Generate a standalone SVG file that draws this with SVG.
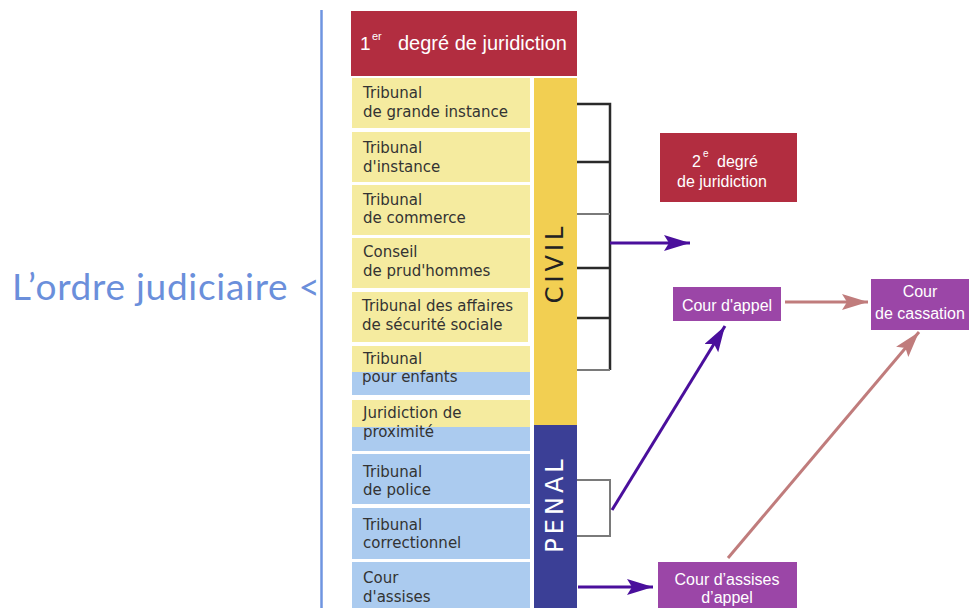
<svg xmlns="http://www.w3.org/2000/svg" width="969" height="608" viewBox="0 0 969 608">
<style>
.rowy{fill:#f5eb9f}
.rowb{fill:#abcbef}
.red{fill:#b22d40}
.pur{fill:#9b46a7}
.rt{font-family:"DejaVu Sans",Verdana,sans-serif;font-size:15px;fill:#333}
.wt{font-family:"Liberation Sans",Arial,sans-serif;fill:#fff}
.bar{font-family:"DejaVu Sans",Verdana,sans-serif;font-size:24px;letter-spacing:4px}
.blk{stroke:#2a2a2a;stroke-width:2.5;fill:none}
.gry{stroke:#7a7a7a;stroke-width:2;fill:none}
.pa{stroke:#4a0f9c;stroke-width:3;fill:none}
.ra{stroke:#c07c7c;stroke-width:3;fill:none}
</style>
<defs>
<marker id="hp" markerUnits="userSpaceOnUse" markerWidth="28" markerHeight="18" refX="26" refY="8" orient="auto"><path d="M0,0 L26,8 L0,16 L5,8 z" fill="#4a0f9c"/></marker>
<marker id="hr" markerUnits="userSpaceOnUse" markerWidth="28" markerHeight="18" refX="26" refY="8" orient="auto"><path d="M0,0 L26,8 L0,16 L5,8 z" fill="#c07c7c"/></marker>
</defs>
<rect width="969" height="608" fill="#fff"/>

<g id="title">
<text x="12" y="300" font-family="Lato,'Liberation Sans',sans-serif" font-size="37" fill="#6b8fdb" textLength="308" lengthAdjust="spacing">L’ordre judiciaire &lt;</text>
<line x1="321.5" y1="10" x2="321.5" y2="608" stroke="#6f95e0" stroke-width="2.5"/>
</g>

<g id="premier-degre">
<rect class="red" x="351" y="11" width="226" height="65"/>
<text class="wt" x="360" y="50" font-size="19">1</text>
<text class="wt" x="372" y="40" font-size="11">er</text>
<text class="wt" x="398" y="50" font-size="20">degré de juridiction</text>
</g>

<g id="tgi"><rect class="rowy" x="352" y="78" width="178" height="50"/>
<text class="rt" x="363" y="98">Tribunal</text><text class="rt" x="363" y="117">de grande instance</text></g>
<g id="ti"><rect class="rowy" x="352" y="132" width="178" height="50"/>
<text class="rt" x="363" y="153">Tribunal</text><text class="rt" x="363" y="172">d'instance</text></g>
<g id="tc"><rect class="rowy" x="352" y="185" width="178" height="50"/>
<text class="rt" x="363" y="205">Tribunal</text><text class="rt" x="363" y="223">de commerce</text></g>
<g id="cph"><rect class="rowy" x="352" y="238" width="178" height="50"/>
<text class="rt" x="363" y="257">Conseil</text><text class="rt" x="363" y="276">de prud'hommes</text></g>
<g id="tass"><rect class="rowy" x="352" y="292" width="176" height="50"/>
<text class="rt" x="362" y="311">Tribunal des affaires</text><text class="rt" x="362" y="330">de sécurité sociale</text></g>
<g id="tpe"><rect class="rowy" x="352" y="346" width="178" height="26"/><rect class="rowb" x="352" y="372" width="178" height="23"/>
<text class="rt" x="363" y="364">Tribunal</text><text class="rt" x="362" y="382">pour enfants</text></g>
<g id="jp"><rect class="rowy" x="352" y="400" width="178" height="27"/><rect class="rowb" x="352" y="427" width="178" height="24"/>
<text class="rt" x="363" y="418">Juridiction de</text><text class="rt" x="363" y="437">proximité</text></g>
<g id="tp"><rect class="rowb" x="352" y="454" width="178" height="50"/>
<text class="rt" x="363" y="477">Tribunal</text><text class="rt" x="363" y="495">de police</text></g>
<g id="tcor"><rect class="rowb" x="352" y="508" width="178" height="51"/>
<text class="rt" x="363" y="530">Tribunal</text><text class="rt" x="363" y="548">correctionnel</text></g>
<g id="ca"><rect class="rowb" x="352" y="562" width="178" height="46"/>
<text class="rt" x="363" y="583">Cour</text><text class="rt" x="363" y="602">d'assises</text></g>

<g id="civil"><rect x="534" y="78" width="43" height="347" fill="#f2cf52"/>
<text class="bar" transform="translate(563,263) rotate(-90)" text-anchor="middle" fill="#222">CIVIL</text></g>
<g id="penal"><rect x="534" y="425" width="43" height="183" fill="#3b3f96"/>
<text class="bar" transform="translate(563,504) rotate(-90)" text-anchor="middle" fill="#fff">PENAL</text></g>

<g id="second-degre"><rect class="red" x="660" y="133" width="137" height="69"/>
<text class="wt" x="692" y="167" font-size="16">2</text>
<text class="wt" x="703" y="157" font-size="10">e</text>
<text class="wt" x="717" y="167" font-size="16">degré</text>
<text class="wt" x="677" y="187" font-size="16">de juridiction</text></g>

<g id="cour-appel"><rect class="pur" x="673" y="287" width="108" height="34"/>
<text class="wt" x="727" y="311" font-size="16" text-anchor="middle">Cour d'appel</text></g>
<g id="cour-cassation"><rect class="pur" x="871" y="279" width="100" height="51"/>
<text class="wt" x="920" y="297" font-size="16" text-anchor="middle">Cour</text>
<text class="wt" x="920" y="319" font-size="16" text-anchor="middle">de cassation</text></g>
<g id="assises-appel"><rect class="pur" x="658" y="562" width="139" height="46"/>
<text class="wt" x="727" y="585" font-size="16" text-anchor="middle">Cour d’assises</text>
<text class="wt" x="727" y="603" font-size="16" text-anchor="middle">d’appel</text></g>

<g id="connectors">
<path class="blk" d="M577,104 H610 V370 M577,162 H610 M577,268 H610 M577,318 H610"/>
<path class="gry" d="M577,214 H610 M577,370 H610"/>
<path class="gry" d="M577,480 H610 V536 H577"/>
<line class="pa" x1="610" y1="243" x2="690" y2="243" marker-end="url(#hp)"/>
<line class="pa" x1="612" y1="510" x2="725" y2="326" marker-end="url(#hp)"/>
<line class="pa" x1="578" y1="587" x2="653" y2="587" marker-end="url(#hp)"/>
<line class="ra" x1="785" y1="302" x2="868" y2="302" marker-end="url(#hr)"/>
<line class="ra" x1="728" y1="558" x2="919" y2="332" marker-end="url(#hr)"/>
</g>
</svg>
